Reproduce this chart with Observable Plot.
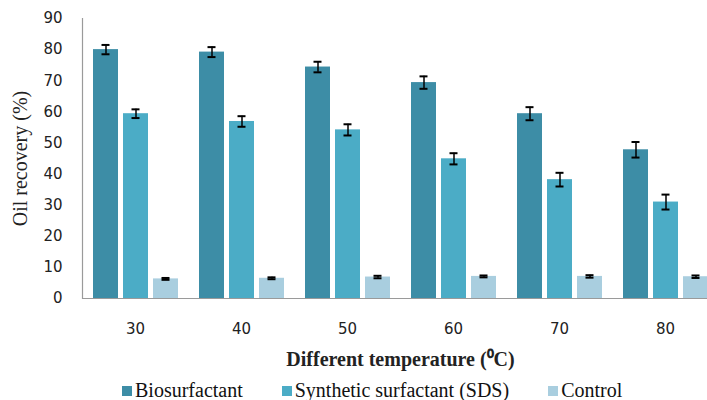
<!DOCTYPE html>
<html><head><meta charset="utf-8">
<script src="https://cdn.jsdelivr.net/npm/d3@7"></script>
<script src="https://cdn.jsdelivr.net/npm/@observablehq/plot@0.6"></script>
<style>
body{margin:0;overflow:hidden;background:#fff;}
#chart svg{overflow:visible;}
#chart g[aria-label="fx-axis label"] text{font-family:"Liberation Serif","Times New Roman",serif;font-weight:bold;font-size:20px;}
#chart g[aria-label="y-axis label"] text{font-family:"Liberation Serif","Times New Roman",serif;font-size:20px;}
#legend{font-family:"Liberation Serif","Times New Roman",serif;font-size:20px;line-height:22px;color:#111;display:flex;padding-left:122px;padding-top:3px;}
#legend .item{display:flex;align-items:center;margin-right:39px;}
#legend .sw{width:10px;height:10px;margin-right:3px;margin-top:2px;}
</style></head><body><div id="chart"></div><div id="legend"></div>
<script>
const temperatures = [30, 40, 50, 60, 70, 80];
const seriesNames = ["Biosurfactant", "Synthetic surfactant (SDS)", "Control"];
const bio = [80, 79.2, 74.4, 69.4, 59.4, 47.8];
const bioErr = [1.5, 1.6, 1.7, 2.0, 2.1, 2.5];
const sds = [59.4, 56.9, 54.2, 44.9, 38.2, 31.0];
const sdsErr = [1.4, 1.7, 1.8, 1.8, 2.2, 2.4];
const control = [6.3, 6.5, 6.9, 7.1, 7.1, 7.0];
const controlErr = [0.3, 0.3, 0.4, 0.3, 0.4, 0.4];
const yTicks = [0, 10, 20, 30, 40, 50, 60, 70, 80, 90];
const colors = ["#3d8da6", "#4bacc6", "#a9cedf"];

const values = [bio, sds, control];
const errors = [bioErr, sdsErr, controlErr];
const data = [];
temperatures.forEach((t, i) => {
  seriesNames.forEach((s, j) => {
    data.push({temp: t, series: s, value: values[j][i], err: errors[j][i]});
  });
});

const chart = Plot.plot({
  width: 707,
  height: 376,
  marginTop: 18,
  marginBottom: 78,
  marginLeft: 82,
  marginRight: -11,
  style: {fontFamily: "DejaVu Sans, Verdana, sans-serif", fontSize: "15px", color: "#222"},
  fx: {domain: temperatures, padding: 0},
  x: {domain: seriesNames, paddingInner: 0.18, paddingOuter: 0.33, axis: null},
  y: {domain: [0, 90]},
  color: {domain: seriesNames, range: colors},
  marks: [
    Plot.barY(data, {fx: "temp", x: "series", y: "value", fill: "series"}),
    Plot.ruleX(data, {fx: "temp", x: "series", y1: d => d.value - d.err, y2: d => d.value + d.err, stroke: "#000", strokeWidth: 1.5}),
    Plot.tickY(data, {fx: "temp", x: "series", y: d => d.value - d.err, stroke: "#000", strokeWidth: 2, insetLeft: 8.5, insetRight: 8.5}),
    Plot.tickY(data, {fx: "temp", x: "series", y: d => d.value + d.err, stroke: "#000", strokeWidth: 2, insetLeft: 8.5, insetRight: 8.5}),
    Plot.ruleY([0], {stroke: "#9a9a9a", strokeWidth: 1.2}),
    Plot.frame({anchor: "left", facet: "super", stroke: "#9a9a9a", strokeWidth: 1.2}),
    Plot.axisY({ticks: yTicks, tickSize: 0, tickPadding: 20, label: "Oil recovery (%)", labelAnchor: "center", labelOffset: 70, labelArrow: "none"}),
    Plot.axisFx({anchor: "bottom", tickSize: 0, tickPadding: 25, label: "Different temperature (\u2070C)", labelAnchor: "center", labelOffset: 67, labelArrow: "none"})
  ]
});
document.getElementById("chart").appendChild(chart);

const legend = document.getElementById("legend");
seriesNames.forEach((s, j) => {
  const item = document.createElement("div");
  item.className = "item";
  const sw = document.createElement("span");
  sw.className = "sw";
  sw.style.background = colors[j];
  const tx = document.createElement("span");
  tx.textContent = s;
  item.appendChild(sw);
  item.appendChild(tx);
  legend.appendChild(item);
});
</script>
</body></html>
